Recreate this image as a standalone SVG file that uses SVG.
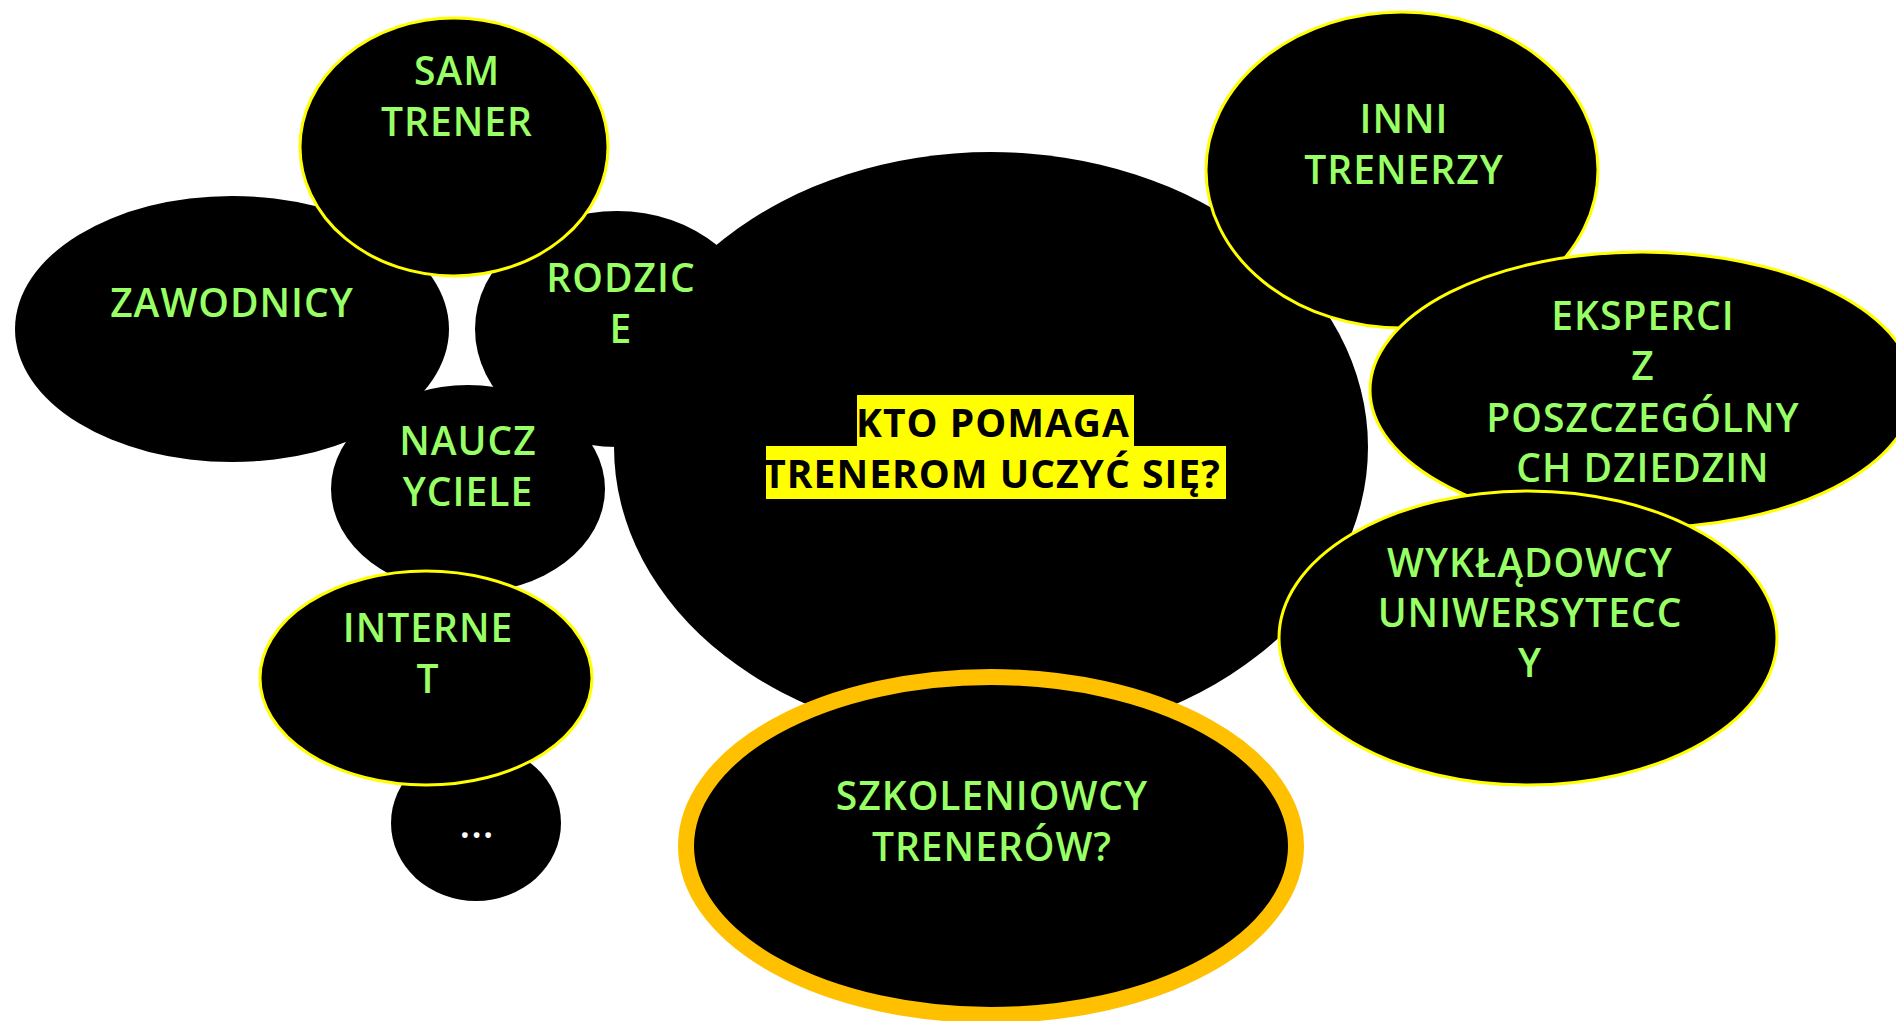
<svg xmlns="http://www.w3.org/2000/svg" width="1896" height="1021" viewBox="0 0 1896 1021">
<style>
.b{fill:#000000;stroke:none}
.y{fill:#000000;stroke:#FFFF00;stroke-width:3}
.t{font-family:"Open Sans","Liberation Sans",sans-serif;font-weight:600;font-size:39px;letter-spacing:1px;fill:#99FF66;text-anchor:middle}
.w{fill:#FFFFFF}
.k{fill:#000000;font-weight:700}
</style>
<rect width="1896" height="1021" fill="#FFFFFF"/>
<g id="connectors"/>
<g id="center">
<ellipse class="b" cx="991" cy="447" rx="377" ry="295"/>
<rect x="857" y="395" width="277" height="52" fill="#FFFF00"/>
<rect x="766" y="446" width="460" height="53" fill="#FFFF00"/>
<text class="t k" x="993" y="437">KTO POMAGA</text>
<text class="t k" x="992" y="488">TRENEROM UCZYĆ SIĘ?</text>
</g>
<g id="zawodnicy">
<ellipse class="b" cx="232" cy="329" rx="217" ry="133"/>
<text class="t" x="232" y="317">ZAWODNICY</text>
</g>
<g id="rodzice">
<ellipse class="b" cx="617" cy="329" rx="142" ry="118"/>
<text class="t" x="621" y="292">RODZIC</text>
<text class="t" x="621" y="343">E</text>
</g>
<g id="nauczyciele">
<ellipse class="b" cx="468" cy="489" rx="137" ry="104"/>
<text class="t" x="468" y="455">NAUCZ</text>
<text class="t" x="468" y="506">YCIELE</text>
</g>
<g id="more">
<ellipse class="b" cx="476" cy="823" rx="85" ry="78"/>
<text class="t w" x="477" y="838">...</text>
</g>
<g id="internet">
<ellipse class="y" cx="426" cy="678" rx="166" ry="107"/>
<text class="t" x="428" y="642">INTERNE</text>
<text class="t" x="428" y="693">T</text>
</g>
<g id="sam-trener">
<ellipse class="y" cx="454" cy="147" rx="154" ry="129"/>
<text class="t" x="457" y="85">SAM</text>
<text class="t" x="457" y="136">TRENER</text>
</g>
<g id="inni-trenerzy">
<ellipse class="y" cx="1402" cy="170" rx="196" ry="158"/>
<text class="t" x="1404" y="133">INNI</text>
<text class="t" x="1404" y="184">TRENERZY</text>
</g>
<g id="eksperci">
<ellipse class="y" cx="1642" cy="390" rx="272" ry="138"/>
<text class="t" x="1643" y="330">EKSPERCI</text>
<text class="t" x="1643" y="380">Z</text>
<text class="t" x="1643" y="432">POSZCZEGÓLNY</text>
<text class="t" x="1643" y="482">CH DZIEDZIN</text>
</g>
<g id="wykladowcy">
<ellipse class="y" cx="1528" cy="638" rx="249" ry="147"/>
<text class="t" x="1530" y="577">WYKŁĄDOWCY</text>
<text class="t" x="1530" y="627">UNIWERSYTECC</text>
<text class="t" x="1530" y="677">Y</text>
</g>
<g id="szkoleniowcy">
<ellipse cx="991" cy="846" rx="305" ry="169" fill="#000000" stroke="#FFC000" stroke-width="16"/>
<text class="t" x="992" y="810">SZKOLENIOWCY</text>
<text class="t" x="992" y="861">TRENERÓW?</text>
</g>
</svg>
